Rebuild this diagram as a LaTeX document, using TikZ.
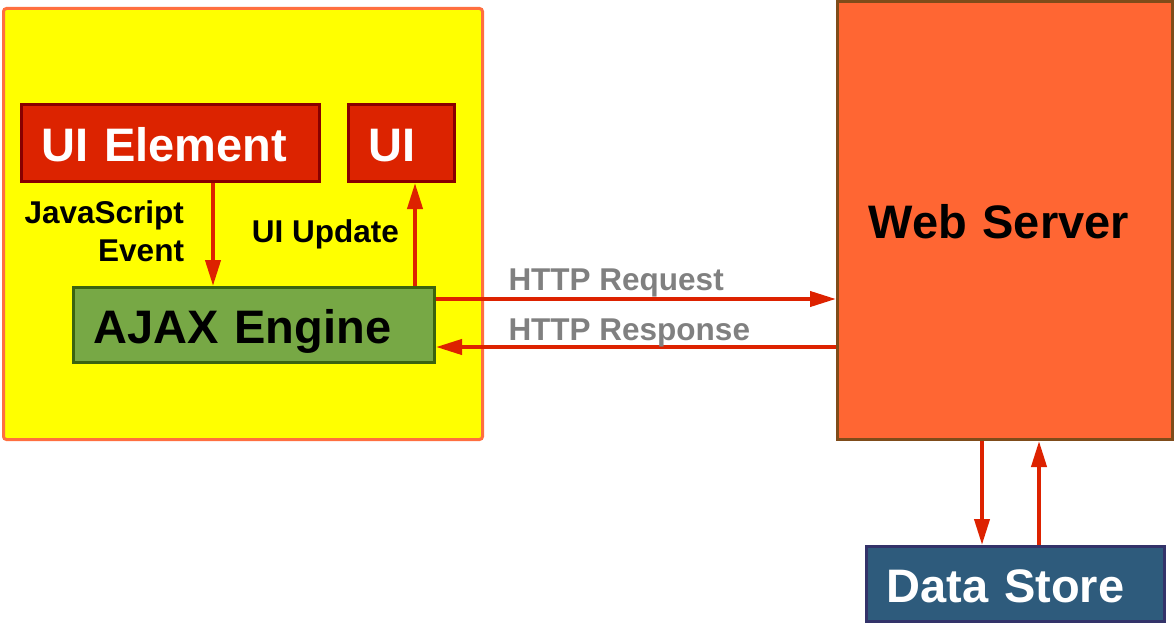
\documentclass[tikz,border=0pt]{standalone}
\usepackage{fontspec}
\setmainfont{Liberation Sans}
\usetikzlibrary{arrows.meta,positioning}

\definecolor{clientfill}{HTML}{FFFF00}
\definecolor{clientline}{HTML}{FF6F3F}
\definecolor{uifill}{HTML}{DC2300}
\definecolor{uiline}{HTML}{880000}
\definecolor{ajaxfill}{HTML}{77A845}
\definecolor{ajaxline}{HTML}{3B6310}
\definecolor{webfill}{HTML}{FF6633}
\definecolor{webline}{HTML}{7F4C1A}
\definecolor{dsfill}{HTML}{2E5B7C}
\definecolor{dsline}{HTML}{33336A}
\definecolor{flowred}{HTML}{DD2200}
\definecolor{httpgray}{HTML}{808080}

\tikzset{
  blk/.style={rectangle, draw, line width=3pt, anchor=north west,
    inner xsep=20pt, inner ysep=0pt, align=left,
    text height=40pt, text depth=4pt,
    font=\fontsize{47}{56}\selectfont\bfseries},
  flow/.style={draw=flowred, line width=4pt, -{Triangle[length=26pt,width=15pt]}},
  lbl/.style={font=\fontsize{31.5}{38}\selectfont\bfseries, inner sep=0pt},
}

\begin{document}
\begin{tikzpicture}[x=1pt, y=-1pt]
  \useasboundingbox (0,0) rectangle (1175,626);

  % browser side
  \node[rectangle, draw=clientline, fill=clientfill, line width=3pt, rounded corners=3pt,
        anchor=north west, minimum width=479pt, minimum height=431pt] (client) at (2,7) {};
  \node[blk, fill=uifill, draw=uiline, text=white, minimum width=298pt, text width=258pt,
        minimum height=77pt] (uielem) at (20,103) {UI Element};
  \node[blk, fill=uifill, draw=uiline, text=white, minimum width=106pt, text width=66pt,
        minimum height=77pt, right=26pt of uielem] (ui) {UI};
  \node[blk, fill=ajaxfill, draw=ajaxline, minimum width=361pt, text width=321pt,
        minimum height=75pt] (ajax) at (72,286) {AJAX Engine};

  % server side
  \node[blk, fill=webfill, draw=webline, inner xsep=31pt, minimum width=335pt, text width=273pt,
        minimum height=438pt] (web) at (836,0) {Web Server};
  \node[blk, fill=dsfill, draw=dsline, text=white, minimum width=298pt, text width=258pt,
        minimum height=75pt, below=104pt of web, xshift=10.5pt] (ds) {Data Store};

  \coordinate (jsev) at ([xshift=42.5pt]uielem.south);
  \coordinate (upd)  at ([xshift=-21pt]ajax.north east);
  \coordinate (req)  at ([yshift=-13pt]ajax.north east);
  \coordinate (resp) at ([yshift=17pt]ajax.south east);
  \coordinate (dsin) at ([xshift=-33.5pt]ds.north);
  \coordinate (dsout) at ([xshift=23.5pt]ds.north);

  \draw[flow] (jsev) -- node[lbl, left=27pt, yshift=3.5pt, align=right] {JavaScript\\Event} (jsev |- ajax.north);
  \draw[flow] (upd) -- node[lbl, left=14pt] {UI Update} (upd |- ui.south);
  \draw[flow] (req) -- node[lbl, pos=0, anchor=base west, xshift=70.5pt, yshift=9pt, text=httpgray] {HTTP Request} (req -| web.west);
  \draw[flow] (resp -| web.west) -- node[lbl, pos=1, anchor=base west, xshift=70.5pt, yshift=7pt, text=httpgray] {HTTP Response} (resp);
  \draw[flow] (dsin |- web.south) -- (dsin);
  \draw[flow] (dsout) -- (dsout |- web.south);
\end{tikzpicture}
\end{document}
